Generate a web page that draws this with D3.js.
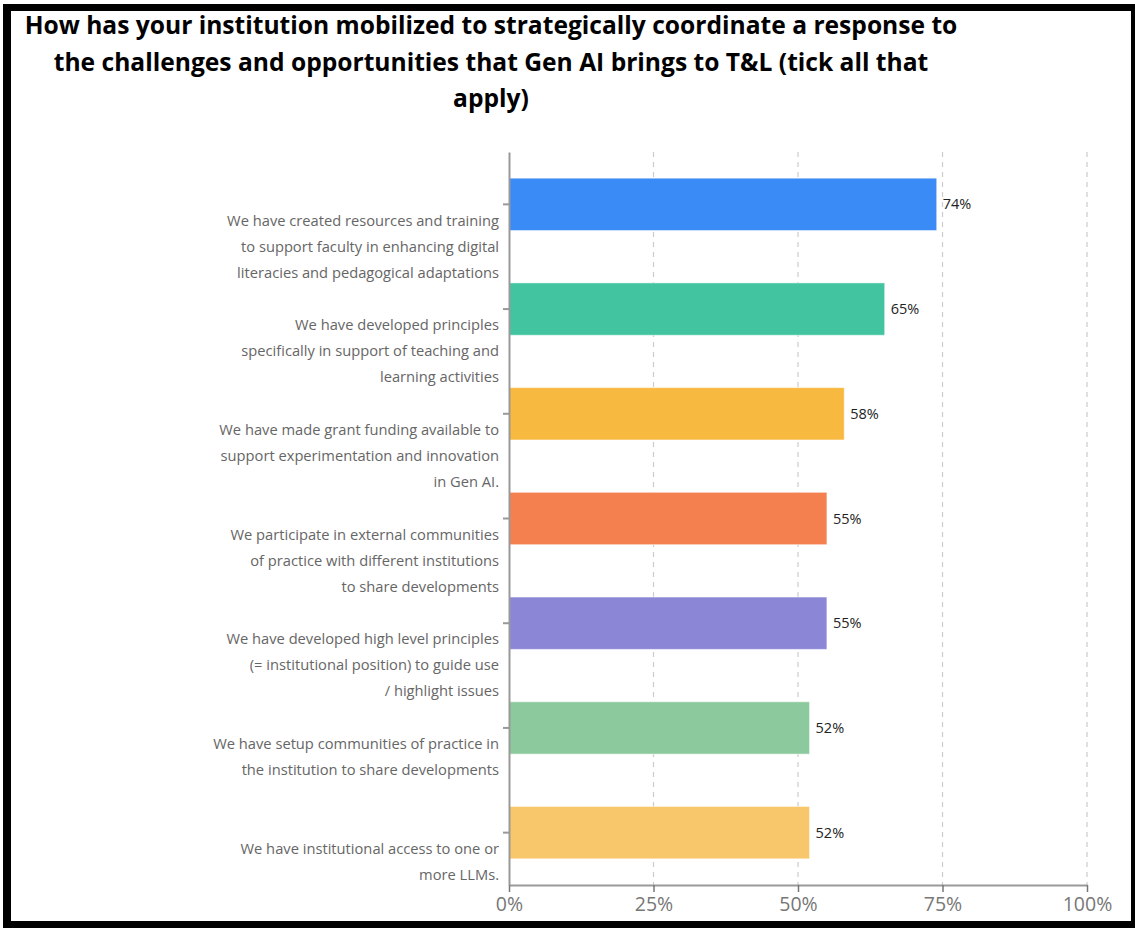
<!DOCTYPE html>
<html>
<head>
<meta charset="utf-8">
<script src="https://cdn.jsdelivr.net/npm/d3@7"></script>
<style>
  html, body { margin: 0; padding: 0; background: #fff; }
  svg { display: block; }
</style>
</head>
<body>
<svg id="plot" width="1135" height="928"></svg>
<script>
// data
const titleLines = [
  "How has your institution mobilized to strategically coordinate a response to",
  "the challenges and opportunities that Gen AI brings to T&L (tick all that",
  "apply)"
];
const categories = [
  ["We have created resources and training", "to support faculty in enhancing digital", "literacies and pedagogical adaptations"],
  ["We have developed principles", "specifically in support of teaching and", "learning activities"],
  ["We have made grant funding available to", "support experimentation and innovation", "in Gen AI."],
  ["We participate in external communities", "of practice with different institutions", "to share developments"],
  ["We have developed high level principles", "(= institutional position) to guide use", "/ highlight issues"],
  ["We have setup communities of practice in", "the institution to share developments"],
  ["We have institutional access to one or", "more LLMs."]
];
const values = [74, 65, 58, 55, 55, 52, 52];
const barColors = ["#3a8bf5", "#42c4a0", "#f7b940", "#f3804e", "#8b87d6", "#8cca9e", "#f8c66b"];
const xTicks = [0, 25, 50, 75, 100];

const svg = d3.select("#plot");
const width = +svg.attr("width");
const height = +svg.attr("height");

const margin = { top: 152, right: 48, bottom: 43, left: 509 };
const innerWidth = width - margin.left - margin.right;
const innerHeight = height - margin.top - margin.bottom;

const font = "'Open Sans', sans-serif";

// frame
svg.append("rect").attr("x", 0).attr("y", 0).attr("width", width).attr("height", height).attr("fill", "#fff");
svg.append("rect").attr("x", 3).attr("y", 4).attr("width", width - 3).attr("height", 7).attr("fill", "#000");
svg.append("rect").attr("x", 3).attr("y", 4).attr("width", 8).attr("height", height - 4).attr("fill", "#000");
svg.append("rect").attr("x", 1131).attr("y", 4).attr("width", 4).attr("height", height - 4).attr("fill", "#000");
svg.append("rect").attr("x", 3).attr("y", 921).attr("width", width - 3).attr("height", 7).attr("fill", "#000");

// title
svg.selectAll(".title")
  .data(titleLines)
  .enter()
  .append("text")
  .attr("class", "title")
  .attr("x", 491)
  .attr("y", (d, i) => 34 + i * 36.5)
  .attr("text-anchor", "middle")
  .attr("font-family", font)
  .attr("font-weight", "bold")
  .attr("font-size", 24.6)
  .attr("fill", "#000")
  .text(d => d);

const g = svg.append("g").attr("transform", `translate(${margin.left},${margin.top})`);

// scales
const x = d3.scaleLinear().domain([0, 100]).range([0, innerWidth]);
const y = d3.scaleBand()
  .domain(d3.range(categories.length))
  .range([0, innerHeight])
  .paddingInner(0.5)
  .paddingOuter(0.25);

// gridlines
g.selectAll(".grid")
  .data(xTicks.filter(d => d > 0))
  .enter()
  .append("line")
  .attr("x1", d => x(d))
  .attr("x2", d => x(d))
  .attr("y1", 0)
  .attr("y2", innerHeight)
  .attr("stroke", "#ccc")
  .attr("stroke-width", 1.2)
  .attr("stroke-dasharray", "5,5");

// bars
g.selectAll(".bar")
  .data(values)
  .enter()
  .append("rect")
  .attr("x", 0)
  .attr("y", (d, i) => y(i))
  .attr("width", d => x(d))
  .attr("height", y.bandwidth())
  .attr("fill", (d, i) => barColors[i])
  .attr("stroke", "rgba(255,255,255,0.5)")
  .attr("stroke-width", 1);

// value labels
g.selectAll(".val")
  .data(values)
  .enter()
  .append("text")
  .attr("x", d => x(d) + 6)
  .attr("y", (d, i) => y(i) + y.bandwidth() / 2)
  .attr("dy", "0.35em")
  .attr("font-family", font)
  .attr("font-size", 14.5)
  .attr("fill", "#222")
  .text(d => d + "%");

// x axis
const xAxis = g.append("g")
  .attr("transform", `translate(0,${innerHeight})`)
  .call(d3.axisBottom(x).tickValues(xTicks).tickFormat(d => d + "%").tickSize(7).tickSizeOuter(0));
xAxis.select(".domain").attr("stroke", "#999").attr("stroke-width", 2);
xAxis.selectAll(".tick line").attr("stroke", "#777").attr("stroke-width", 1.5);
xAxis.selectAll(".tick text")
  .attr("font-family", font)
  .attr("font-size", 19.5)
  .attr("fill", "#777")
  .attr("dy", "0.8em");

// y axis
const yAxis = g.append("g")
  .call(d3.axisLeft(y).tickSize(6).tickSizeOuter(0).tickFormat(""));
yAxis.select(".domain").attr("stroke", "#999").attr("stroke-width", 2);
yAxis.selectAll(".tick line").attr("stroke", "#999").attr("stroke-width", 2);

// category labels (first line sits just below the tick)
const labelLines = [];
categories.forEach((lines, i) => {
  lines.forEach((t, j) => labelLines.push({ t, i, j }));
});
g.selectAll(".cat")
  .data(labelLines)
  .enter()
  .append("text")
  .attr("class", "cat")
  .attr("x", -10)
  .attr("y", d => y(d.i) + y.bandwidth() / 2 + 16 + d.j * 26)
  .attr("dy", "0.35em")
  .attr("text-anchor", "end")
  .attr("font-family", font)
  .attr("font-size", 14.7)
  .attr("fill", "#666")
  .text(d => d.t);
</script>
</body>
</html>
